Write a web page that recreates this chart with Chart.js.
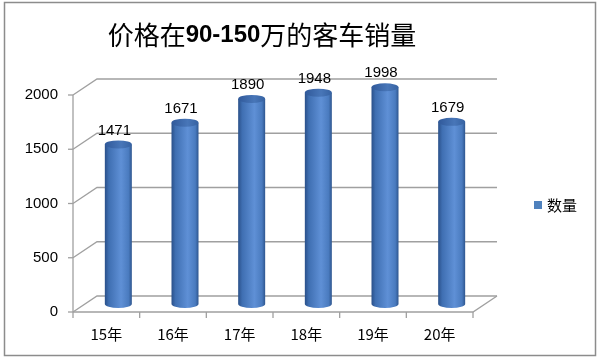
<!DOCTYPE html>
<html>
<head>
<meta charset="utf-8">
<script src="https://cdn.jsdelivr.net/npm/chart.js@4.4.0/dist/chart.umd.min.js"></script>
<style>
  html, body { margin: 0; padding: 0; background: #fff; }
  #grafica { display: block; }
</style>
</head>
<body>
<canvas id="grafica" width="600" height="360"></canvas>
<script>
// datos
const categorias = ['15年', '16年', '17年', '18年', '19年', '20年'];
const cantidades = [1471, 1671, 1890, 1948, 1998, 1679];
const nombreSerie = '数量';
const ticksY = [0, 500, 1000, 1500, 2000];
const tituloPartes = [['价格在', false], ['90-150', true], ['万的客车销量', false]];

const fuente = '"Liberation Sans", "Noto Sans CJK SC", sans-serif';
const fuenteCJK = '"Noto Sans CJK SC", "Liberation Sans", sans-serif';
const colorSerie = '#4f81bd';
const colorMalla = '#a0a0a0';
// desplazamiento de profundidad (efecto 3D)
const prof = { dx: 24, dy: -16 };

const fondoPlugin = {
  id: 'fondo',
  beforeDraw(chart) {
    const ctx = chart.ctx;
    ctx.save();
    ctx.fillStyle = '#fff';
    ctx.fillRect(0, 0, chart.width, chart.height);
    ctx.strokeStyle = '#8c8c8c';
    ctx.lineWidth = 1.5;
    ctx.strokeRect(4.5, 2.5, 591, 353);

    // titulo con partes en negrita
    ctx.textBaseline = 'middle';
    let ancho = 0;
    const medidas = tituloPartes.map(([t, negrita]) => {
      ctx.font = negrita ? 'bold 24px ' + fuente : '26px ' + fuenteCJK;
      const w = ctx.measureText(t).width;
      ancho += w;
      return w;
    });
    let x = 262 - ancho / 2;
    ctx.fillStyle = '#000';
    tituloPartes.forEach(([t, negrita], i) => {
      ctx.font = negrita ? 'bold 24px ' + fuente : '26px ' + fuenteCJK;
      ctx.fillText(t, x, 35);
      x += medidas[i];
    });

    // leyenda
    ctx.fillStyle = colorSerie;
    ctx.fillRect(534, 201, 8, 8);
    ctx.fillStyle = '#000';
    ctx.font = '15px ' + fuenteCJK;
    ctx.textAlign = 'left';
    ctx.fillText(nombreSerie, 547, 205);
    ctx.restore();
  }
};

const mallaPlugin = {
  id: 'malla3d',
  beforeDatasetsDraw(chart) {
    const ctx = chart.ctx;
    const ys = chart.scales.y;
    const izq = chart.chartArea.left;
    const der = chart.chartArea.right;
    const base = ys.getPixelForValue(0);
    ctx.save();
    ctx.strokeStyle = colorMalla;
    ctx.lineWidth = 1.3;
    // lineas de la pared del fondo
    ticksY.forEach(v => {
      const y = ys.getPixelForValue(v);
      ctx.beginPath();
      ctx.moveTo(izq, y);
      ctx.lineTo(izq + prof.dx, y + prof.dy);
      ctx.lineTo(der + prof.dx, y + prof.dy);
      ctx.stroke();
      // marcas del eje y
      ctx.beginPath();
      ctx.moveTo(izq - 5, y);
      ctx.lineTo(izq, y);
      ctx.stroke();
    });
    // eje y
    ctx.beginPath();
    ctx.moveTo(izq, ys.getPixelForValue(ticksY[ticksY.length - 1]));
    ctx.lineTo(izq, base);
    ctx.stroke();
    // piso
    ctx.beginPath();
    ctx.moveTo(izq, base);
    ctx.lineTo(der, base);
    ctx.lineTo(der + prof.dx, base + prof.dy);
    ctx.stroke();
    // marcas del eje x
    const paso = (der - izq) / categorias.length;
    for (let i = 0; i <= categorias.length; i++) {
      const x = izq + i * paso;
      ctx.beginPath();
      ctx.moveTo(x, base);
      ctx.lineTo(x, base + 6);
      ctx.stroke();
    }
    ctx.restore();
  }
};

const cilindrosPlugin = {
  id: 'cilindros',
  afterDatasetsDraw(chart) {
    const ctx = chart.ctx;
    const meta = chart.getDatasetMeta(0);
    ctx.save();
    meta.data.forEach((bar, i) => {
      const cx = bar.x + prof.dx / 2;
      const arriba = bar.y + prof.dy / 2;
      const abajo = bar.base + prof.dy / 2;
      const rx = bar.width / 2;
      const ry = 4;
      const g = ctx.createLinearGradient(cx - rx, 0, cx + rx, 0);
      g.addColorStop(0, '#2a5089');
      g.addColorStop(0.15, '#3f6fb2');
      g.addColorStop(0.6, '#5f90d6');
      g.addColorStop(0.88, '#4a7bbf');
      g.addColorStop(1, '#2e568f');
      ctx.fillStyle = g;
      ctx.beginPath();
      ctx.moveTo(cx - rx, arriba);
      ctx.lineTo(cx - rx, abajo);
      ctx.ellipse(cx, abajo, rx, ry, 0, Math.PI, 0, true);
      ctx.lineTo(cx + rx, arriba);
      ctx.closePath();
      ctx.fill();
      // tapa superior
      const gt = ctx.createLinearGradient(cx - rx, 0, cx + rx, 0);
      gt.addColorStop(0, '#30599a');
      gt.addColorStop(0.6, '#4876b8');
      gt.addColorStop(1, '#3662a2');
      ctx.fillStyle = gt;
      ctx.beginPath();
      ctx.ellipse(cx, arriba, rx, ry, 0, 0, Math.PI * 2);
      ctx.fill();
      // etiqueta de valor
      ctx.fillStyle = '#000';
      ctx.font = '15px ' + fuente;
      ctx.textAlign = 'center';
      ctx.textBaseline = 'middle';
      ctx.fillText(String(cantidades[i]), cx - 4, arriba - 14);
    });
    ctx.restore();
  }
};

new Chart(document.getElementById('grafica'), {
  type: 'bar',
  data: {
    labels: categorias,
    datasets: [{
      label: nombreSerie,
      data: cantidades,
      backgroundColor: 'rgba(0,0,0,0)',
      borderWidth: 0,
      categoryPercentage: 1,
      barPercentage: 0.405
    }]
  },
  options: {
    responsive: false,
    animation: false,
    devicePixelRatio: 1,
    layout: { padding: { top: 95, right: 127, bottom: 0, left: 0 } },
    plugins: {
      legend: { display: false },
      title: { display: false },
      tooltip: { enabled: false }
    },
    scales: {
      x: {
        grid: { display: false, drawTicks: false },
        border: { display: false },
        ticks: { padding: 13, color: '#000', font: { size: 15, family: fuenteCJK } },
        afterFit(s) { s.height = 48; }
      },
      y: {
        min: 0,
        max: 2000,
        grid: { display: false, drawTicks: false },
        border: { display: false },
        ticks: {
          stepSize: 500,
          padding: 15,
          color: '#000',
          font: { size: 15, family: fuente },
          callback: v => String(v)
        },
        afterFit(s) { s.width = 73; }
      }
    }
  },
  plugins: [fondoPlugin, mallaPlugin, cilindrosPlugin]
});
</script>
</body>
</html>
